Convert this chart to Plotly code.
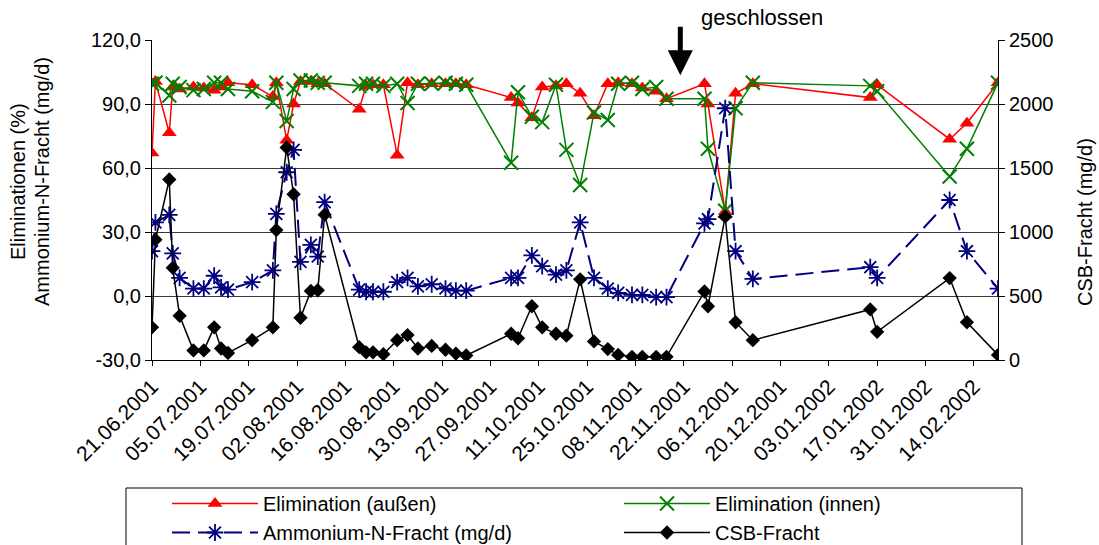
import plotly.graph_objects as go

# Sampling dates
dates = [
    "2001-06-21", "2001-06-22", "2001-06-26", "2001-06-27", "2001-06-29",
    "2001-07-03", "2001-07-06", "2001-07-09", "2001-07-11", "2001-07-13",
    "2001-07-20", "2001-07-26", "2001-07-27", "2001-07-30", "2001-08-01",
    "2001-08-03", "2001-08-06", "2001-08-08", "2001-08-10", "2001-08-20",
    "2001-08-22", "2001-08-24", "2001-08-27", "2001-08-31", "2001-09-03",
    "2001-09-06", "2001-09-10", "2001-09-14", "2001-09-17", "2001-09-20",
    "2001-10-03", "2001-10-05", "2001-10-09", "2001-10-12", "2001-10-16",
    "2001-10-19", "2001-10-23", "2001-10-27", "2001-10-31", "2001-11-03",
    "2001-11-07", "2001-11-10", "2001-11-14", "2001-11-17", "2001-11-28",
    "2001-11-29", "2001-12-04", "2001-12-07", "2001-12-12", "2002-01-15",
    "2002-01-17", "2002-02-07", "2002-02-12", "2002-02-21",
]

# Elimination outside (%)
elim_aussen = [
    67, 100.5, 76.5, 98, 97, 98, 97.5, 96.5, 98, 100,
    99, 93.5, 100, 73, 90, 100.5, 100.5, 99.5, 99.5, 87.5,
    98.5, 99, 99, 66, 100, 99, 99.5, 99.5, 99.5, 99,
    93, 90.5, 83.5, 98, 98.5, 99.5, 95, 84.5, 99.5, 100,
    99.5, 97.5, 96, 92.5, 99.5, 90, 39.5, 95, 99.5, 93,
    99, 73.5, 81, 100,
]

# Elimination inside (%)
elim_innen = [
    99.5, 100, 94, 99.5, 98, 96.5, 97, 100, 100, 97,
    96, 91, 100, 82, 97, 101, 101, 100, 100, 98.5,
    99.5, 99.5, 98.5, 99.5, 90.5, 99.5, 99.5, 100, 99.5, 99,
    62.5, 95.5, 84, 81.5, 99, 68.5, 52, 86, 82.5, 99.5,
    100, 97, 98, 92.5, 92.5, 69, 40, 88, 100, 98.5,
    96, 56, 69, 100,
]

# Ammonium-N load (mg/d)
ammonium = [
    21, 34.5, 38, 20, 8.5, 3.5, 3.5, 9.5, 4, 3,
    6.5, 12, 38.5, 58, 68.5, 16, 24, 18.5, 44, 3,
    2, 2, 2, 6.5, 8.5, 4.5, 5.5, 3.5, 2.5, 2.5,
    8.5, 8.5, 19, 14, 10, 12, 34.5, 8.5, 3.5, 1.5,
    0.5, 0.5, -0.5, -0.5, 34, 36, 88, 21, 8, 13.5,
    8.5, 45, 21, 3.5,
]

# CSB load (mg/d), right axis
csb = [
    255, 940, 1410, 720, 345, 75, 75, 255, 90, 55,
    155, 255, 1015, 1660, 1295, 330, 540, 545, 1135, 100,
    60, 60, 45, 155, 195, 90, 110, 80, 50, 35,
    205, 170, 420, 255, 205, 190, 630, 145, 85, 40,
    25, 25, 25, 25, 535, 420, 1120, 295, 155, 395,
    220, 640, 295, 40,
]

left_ticks = [-30, 0, 30, 60, 90, 120]
right_ticks = [0, 500, 1000, 1500, 2000, 2500]
tick_dates = ["2001-06-21", "2001-07-05", "2001-07-19", "2001-08-02", "2001-08-16",
              "2001-08-30", "2001-09-13", "2001-09-27", "2001-10-11", "2001-10-25",
              "2001-11-08", "2001-11-22", "2001-12-06", "2001-12-20", "2002-01-03",
              "2002-01-17", "2002-01-31", "2002-02-14"]
closed_date = "2001-11-21"

FONT = "Arial, 'Liberation Sans', sans-serif"

# Figure is taller than the view so the legend frame runs off the bottom edge
W, H = 1099, 580
L, R, T = 152, 101, 40
PLOT_BOTTOM = 360
B = H - PLOT_BOTTOM
PW, PH = W - L - R, PLOT_BOTTOM - T


def px(x):
    return (x - L) / PW


def py(y):
    return (PLOT_BOTTOM - y) / PH


fig = go.Figure()

fig.add_trace(go.Scatter(
    x=dates, y=elim_aussen, name="Elimination (außen)", mode="lines+markers",
    legend="legend",
    line=dict(color="#FF0000", width=1.5),
    marker=dict(symbol="triangle-up", size=13, color="#FF0000"),
))
fig.add_trace(go.Scatter(
    x=dates, y=elim_innen, name="Elimination (innen)", mode="lines+markers",
    legend="legend2",
    line=dict(color="#008000", width=1.5),
    marker=dict(symbol="x-thin", size=14, color="#008000",
                line=dict(color="#008000", width=2)),
))
fig.add_trace(go.Scatter(
    x=dates, y=ammonium, name="Ammonium-N-Fracht (mg/d)", mode="lines+markers",
    legend="legend",
    line=dict(color="#000080", width=2, dash="18px,8px"),
    marker=dict(symbol="asterisk", size=14, color="#000080",
                line=dict(color="#000080", width=1.8)),
))
fig.add_trace(go.Scatter(
    x=dates, y=csb, name="CSB-Fracht", mode="lines+markers", yaxis="y2",
    legend="legend2",
    line=dict(color="#000000", width=1.5),
    marker=dict(symbol="diamond", size=11, color="#000000"),
))

legend_style = dict(
    orientation="v", yanchor="top", xanchor="left", y=py(484),
    borderwidth=0, bgcolor="rgba(0,0,0,0)", font=dict(size=20),
    itemwidth=86, tracegroupgap=0,
)

fig.update_layout(
    width=W, height=H,
    margin=dict(l=L, r=R, t=T, b=B, pad=0),
    paper_bgcolor="white", plot_bgcolor="white",
    font=dict(family=FONT, size=20, color="black"),
    showlegend=True,
    legend=dict(x=px(167), **legend_style),
    legend2=dict(x=px(619), **legend_style),
    xaxis=dict(
        type="date", range=["2001-06-21", "2002-02-21"],
        tickvals=tick_dates, tickformat="%d.%m.%Y", tickangle=-45,
        ticks="outside", ticklen=5, tickcolor="black",
        showline=True, linecolor="black", linewidth=1,
        showgrid=False, zeroline=False,
        tickfont=dict(size=21),
    ),
    yaxis=dict(
        range=[-30, 120], tickvals=left_ticks,
        ticktext=[f"{v:.1f}".replace(".", ",") for v in left_ticks],
        ticks="outside", ticklen=6, tickcolor="black",
        showline=True, linecolor="black", linewidth=1,
        showgrid=True, gridcolor="#3a3a3a", gridwidth=1, zeroline=False,
    ),
    yaxis2=dict(
        range=[0, 2500], tickvals=right_ticks,
        ticktext=[str(v) for v in right_ticks],
        overlaying="y", side="right",
        ticks="outside", ticklen=6, tickcolor="black",
        showline=True, linecolor="black", linewidth=1,
        showgrid=False, zeroline=False,
    ),
    shapes=[
        # legend frame
        dict(type="rect", xref="paper", yref="paper",
             x0=px(126), x1=px(1022), y0=py(H + 10), y1=py(488),
             line=dict(color="black", width=1), fillcolor="rgba(0,0,0,0)"),
    ],
    annotations=[
        dict(text="Eliminationen (%)", xref="paper", yref="paper",
             x=px(18), y=py(182), textangle=-90, showarrow=False,
             xanchor="center", yanchor="middle", font=dict(size=20)),
        dict(text="Ammonium-N-Fracht (mg/d)", xref="paper", yref="paper",
             x=px(42), y=py(182), textangle=-90, showarrow=False,
             xanchor="center", yanchor="middle", font=dict(size=20)),
        dict(text="CSB-Fracht (mg/d)", xref="paper", yref="paper",
             x=px(1085), y=py(222), textangle=-90, showarrow=False,
             xanchor="center", yanchor="middle", font=dict(size=20)),
        dict(text="geschlossen", xref="paper", yref="paper",
             x=px(762), y=py(18), showarrow=False,
             xanchor="center", yanchor="middle", font=dict(size=22)),
        dict(text="", x=closed_date, y=103.5, xref="x", yref="y",
             showarrow=True, ax=0, ay=-50, arrowhead=2, arrowsize=1,
             arrowwidth=5, arrowcolor="black"),
    ],
)

fig.write_html(
    "out.html",
    post_script="document.documentElement.style.overflow='hidden';"
                "document.body.style.overflow='hidden';",
)
